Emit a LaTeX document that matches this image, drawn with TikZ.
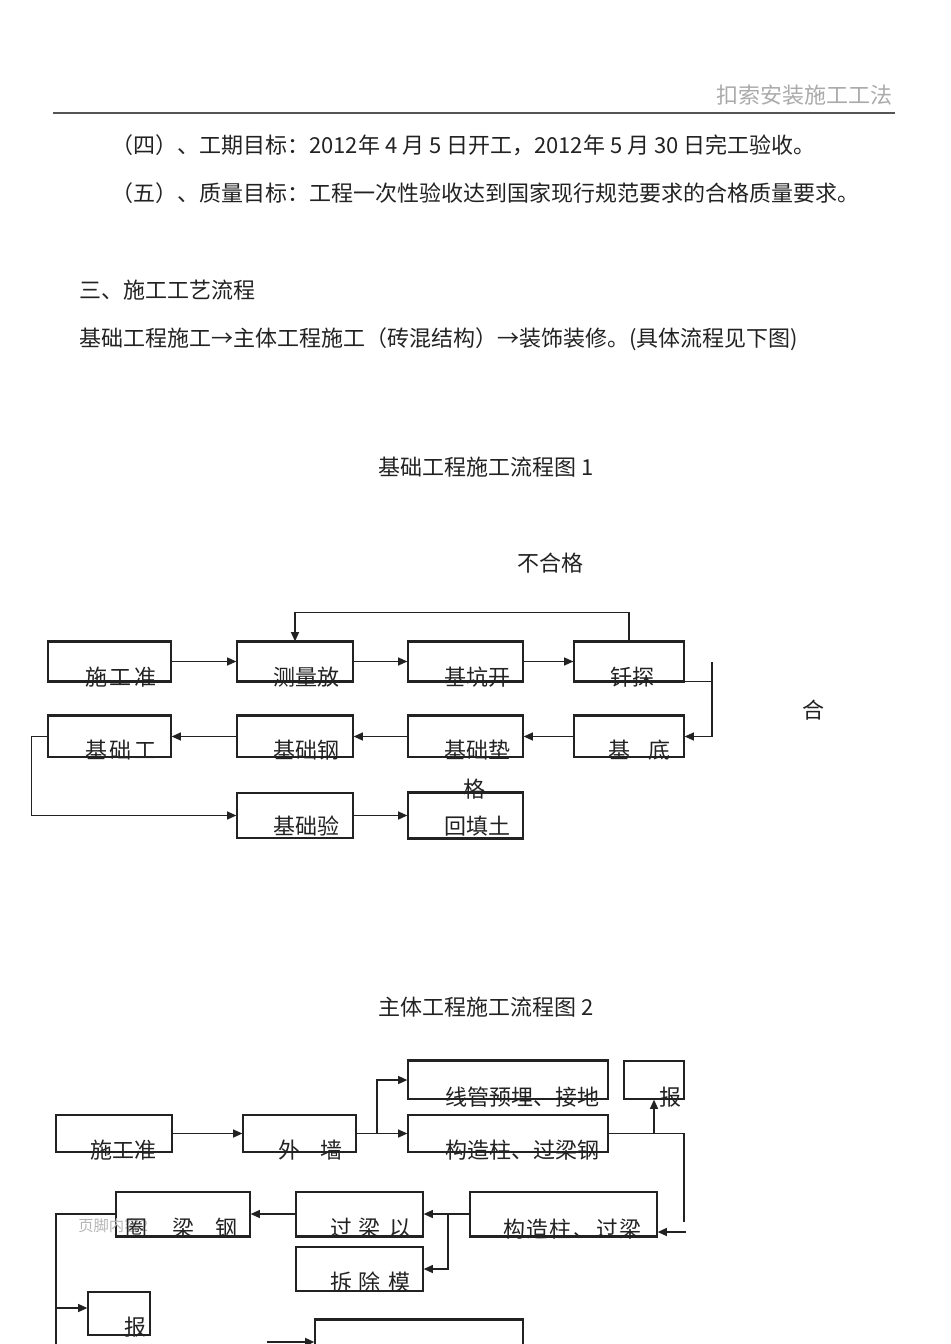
\documentclass[tikz,border=0pt]{standalone}
\usepackage{fontspec}
\setmainfont{Noto Sans CJK SC}
\usetikzlibrary{arrows.meta,fit}
\newcommand\fsz{\fontsize{16.5}{20}\selectfont}
\newcommand\fsm{\fontsize{11.5}{14}\selectfont}
\definecolor{ink}{HTML}{222222}
\definecolor{hdr}{HTML}{AAAAAA}
\definecolor{rule}{HTML}{555555}
\definecolor{foot}{HTML}{B5B5B5}
\tikzset{
  x=0.75pt, y=-0.75pt,
  bx/.style={draw=ink, line width=0.9pt, inner sep=0pt, fill=none},
  tx/.style={anchor=west, inner sep=0pt, font=\fsz, text=ink},
  arr/.style={draw=ink, line width=1.1pt, -{Triangle[length=7pt,width=6pt]}},
  ln/.style={draw=ink, line width=1.1pt},
  thk/.style={draw=ink, line width=2pt},
}
\begin{document}
\begin{tikzpicture}
\useasboundingbox (0,0) rectangle (950,1344);
\clip (0,0) rectangle (950,1344);

% header
\node[tx, text=hdr, anchor=east] (hdr) at (893,95) {扣索安装施工工法};
\coordinate (r1) at (53,113);
\coordinate (r2) at (895,113);
\draw[draw=rule, line width=1.6pt] (r1) -- (r2);

% body text
\node[tx] (p1) at (111,145) {（四）、工期目标：2012年 4 月 5 日开工，2012年 5 月 30 日完工验收。};
\node[tx] (p2) at (111,193) {（五）、质量目标：工程一次性验收达到国家现行规范要求的合格质量要求。};
\node[tx] (p3) at (79,290) {三、施工工艺流程};
\node[tx] (p4) at (79,339) {基础工程施工→主体工程施工（砖混结构）→装饰装修。(具体流程见下图)};

% ---------- diagram 1 ----------
\node[tx] (ti1) at (378,467) {基础工程施工流程图 1};
\node[tx] (bhg) at (517,563) {不合格};
\node[tx] (he) at (802,710) {合};

\node[bx, fit={(48,642) (171,681)}] (a1) {};
\node[bx, fit={(237,642) (353,681)}] (a2) {};
\node[bx, fit={(408,642) (523,681)}] (a3) {};
\node[bx, fit={(574,642) (684,681)}] (a4) {};
\node[bx, fit={(48,716) (171,757)}] (b1) {};
\node[bx, fit={(237,716) (353,757)}] (b2) {};
\node[bx, fit={(408,716) (523,757)}] (b3) {};
\node[bx, fit={(574,716) (684,757)}] (b4) {};
\node[bx, fit={(237,793) (353,838)}] (c1) {};
\node[bx, fit={(408,793) (523,838)}] (c2) {};

\foreach \n in {a1,a2,a3,a4,b1,b2,b3,b4}{
  \draw[thk] (\n.north west) -- (\n.north east);
}
\foreach \n in {a1,a2,a3,a4}{
  \draw[thk] (\n.south west) -- (\n.south east);
}
\draw[thk] (c2.north west) -- (c2.north east);
\draw[thk] (c2.south west) -- (c2.south east);

\node[tx] (ta1) at (85,677) {施\kern2pt 工\kern2pt 准};
\node[tx] (ta2) at (273,677) {测量放};
\node[tx] (ta3) at (444,677) {基坑开};
\node[tx] (ta4) at (610,677) {钎探};
\node[tx] (tb1) at (85,750) {基\kern2pt 础\kern2pt 工};
\node[tx] (tb2) at (273,750) {基础钢};
\node[tx] (tb3) at (444,750) {基础垫};
\node[tx] (tb4) at (608,750) {基\kern14pt 底};
\node[tx] (tge) at (463,789) {格};
\node[tx] (tc1) at (273,826) {基础验};
\node[tx] (tc2) at (444,826) {回填土};

\draw[arr] (a1.east) -- (a2.west);
\draw[arr] (a2.east) -- (a3.west);
\draw[arr] (a3.east) -- (a4.west);
\draw[arr] (a4.north) -- ++(0,-29) -| (a2.north);
\coordinate (j1) at (712,662);
\draw[ln] (a4.south east) -- (a4.south east -| j1);
\draw[arr] (j1) |- (b4.east);
\draw[arr] (b4.west) -- (b3.east);
\draw[arr] (b3.west) -- (b2.east);
\draw[arr] (b2.west) -- (b1.east);
\draw[arr] (b1.west) -- ++(-16,0) |- (c1.west);
\draw[arr] (c1.east) -- (c2.west);

% ---------- diagram 2 ----------
\node[tx] (ti2) at (378,1007) {主体工程施工流程图 2};

\node[bx, fit={(56,1115) (172,1152)}] (d1) {};
\node[bx, fit={(243,1115) (356,1152)}] (d2) {};
\node[bx, fit={(408,1061) (608,1099)}] (d3) {};
\node[bx, fit={(408,1115) (608,1152)}] (d4) {};
\node[bx, fit={(624,1061) (684,1099)}] (d5) {};
\node[bx, fit={(470,1192) (657,1236)}] (e1) {};
\node[bx, fit={(296,1192) (423,1236)}] (e2) {};
\node[bx, fit={(116,1192) (250,1236)}] (e3) {};
\node[bx, fit={(296,1247) (423,1291)}] (e4) {};
\node[bx, fit={(88,1292) (150,1335)}] (f1) {};
\node[bx, fit={(315,1320) (523,1380)}] (f2) {};

\draw[thk] (d3.north west) -- (d3.north east);
\foreach \n in {e1,e2,e3}{
  \draw[thk] (\n.south west) -- (\n.south east);
}
\draw[thk] (f2.north west) -- (f2.north east);

\node[tx, text=foot, font=\fsm] (foot) at (78,1226) {页脚内容2};

\node[tx] (td1) at (90,1150) {施工准};
\node[tx] (td2) at (278,1150) {外\kern15pt 墙};
\node[tx] (td3) at (445,1097) {线管预埋、接地};
\node[tx] (td4) at (445,1150) {构造柱、过梁钢};
\node[tx] (td5) at (659,1097) {报};
\node[tx] (te1) at (503,1229) {构\kern1pt 造\kern1pt 柱\kern1pt 、\kern1pt 过\kern1pt 梁};
\node[tx] (te2) at (330,1228) {过\kern4.5pt 梁\kern7pt 以};
\node[tx] (te3) at (125,1228) {圈\kern19pt 梁\kern16pt 钢};
\node[tx] (te4) at (330,1282) {拆\kern4.5pt 除\kern6pt 模};
\node[tx] (tf1) at (124,1327) {报};

\draw[arr] (d1.east) -- (d2.west);
\draw[arr] (d2.east) -- (d4.west);
\coordinate (k1) at (377,1134);
\draw[arr] (k1 |- d2.east) |- (d3.west);
\coordinate (k2) at (684,1134);
\coordinate (k2b) at (684,1222);
\draw[ln] (d4.east) -- (d4.east -| k2) -- (k2b);
\draw[arr] (d5.south |- d4.east) -- (d5.south);
\coordinate (k3) at (686,1232);
\draw[arr] (k3) -- (e1.east |- k3);
\draw[arr] (e1.west) -- (e2.east);
\coordinate (k4) at (448,1214);
\draw[arr] (k4 |- e1.west) |- (e4.east);
\draw[arr] (e2.west) -- (e3.east);
\coordinate (k5) at (56,1214);
\coordinate (k6) at (56,1350);
\draw[ln] (e3.west) -- (e3.west -| k5) -- (k6);
\coordinate (k7) at (56,1308);
\draw[arr] (k7) -- (k7 -| f1.west);
\coordinate (k8) at (267,1342);
\draw[arr, line width=1.4pt] (k8) -- (k8 -| f2.west);
\end{tikzpicture}
\end{document}
